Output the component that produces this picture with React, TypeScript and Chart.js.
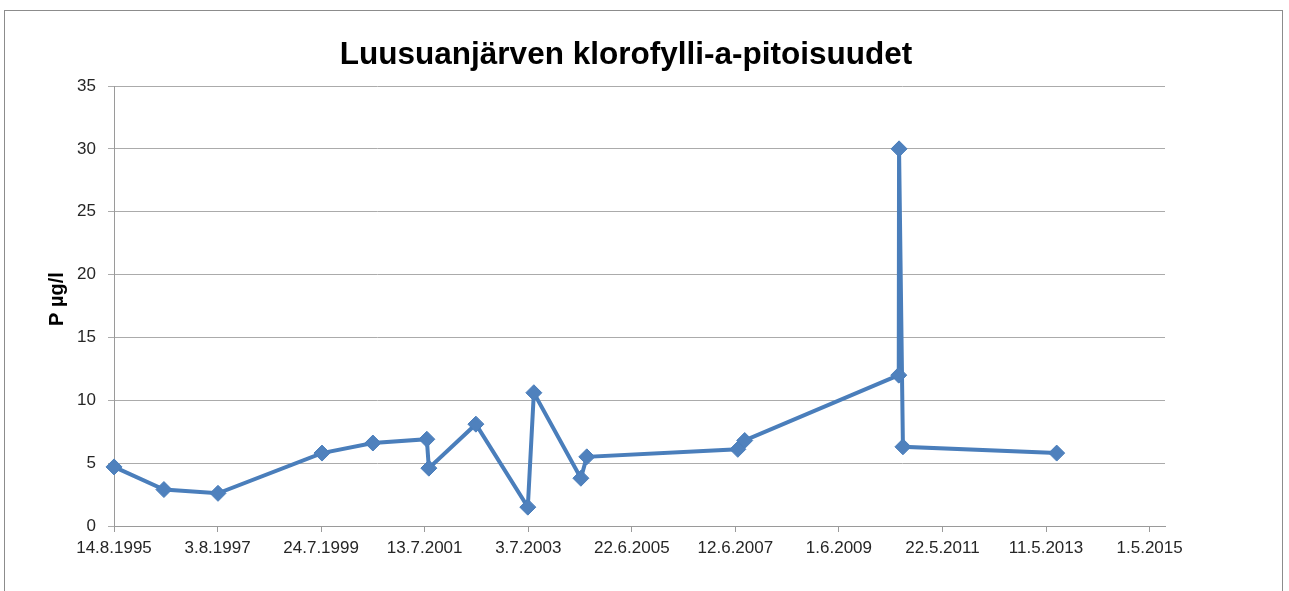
import React, { useEffect, useRef } from "react";
import { Chart, registerables } from "chart.js";

Chart.register(...registerables);

const chartTitle = "Luusuanjärven klorofylli-a-pitoisuudet";
const yAxisTitle = "P µg/l";

// sampling dates (ISO) and chlorophyll-a values
const sampleDates = [
  "1995-08-14",
  "1996-07-26",
  "1997-08-06",
  "1999-07-30",
  "2000-07-18",
  "2001-07-28",
  "2001-08-11",
  "2002-07-04",
  "2003-06-30",
  "2003-08-11",
  "2004-07-03",
  "2004-08-13",
  "2007-06-29",
  "2007-08-16",
  "2010-07-22",
  "2010-07-24",
  "2010-08-20",
  "2013-07-24",
];
const sampleValues = [4.7, 2.9, 2.6, 5.8, 6.6, 6.9, 4.6, 8.1, 1.5, 10.6, 3.8, 5.5, 6.1, 6.8, 12.0, 30.0, 6.3, 5.8];

// x axis ticks (Excel-like date axis, 720-day step)
const xTickStart = "1995-08-14";
const xTickStepDays = 720;
const xTickCount = 11;
const xAxisEnd = "2015-08-16";
const yMin = 0;
const yMax = 35;
const yStep = 5;

const DAY = 86400000;
const EXCEL_EPOCH = Date.UTC(1899, 11, 30);
const toSerial = (iso: string) => {
  const [y, m, d] = iso.split("-").map(Number);
  return Math.round((Date.UTC(y, m - 1, d) - EXCEL_EPOCH) / DAY);
};
const fmtSerial = (s: number) => {
  const dt = new Date(EXCEL_EPOCH + Math.round(s) * DAY);
  return `${dt.getUTCDate()}.${dt.getUTCMonth() + 1}.${dt.getUTCFullYear()}`;
};

const titlesPlugin = {
  id: "fixedTitles",
  afterDraw(chart: any) {
    const ctx = chart.ctx;
    ctx.save();
    ctx.fillStyle = "#000000";
    ctx.textAlign = "center";
    ctx.textBaseline = "middle";
    ctx.font = "bold 31.5px 'Liberation Sans', Arial, sans-serif";
    ctx.fillText(chartTitle, 626, 55);
    ctx.translate(57, 299);
    ctx.rotate(-Math.PI / 2);
    ctx.font = "bold 20px 'Liberation Sans', Arial, sans-serif";
    ctx.fillText(yAxisTitle, 0, 0);
    ctx.restore();
  },
};

export default function App() {
  const ref = useRef<HTMLCanvasElement | null>(null);

  useEffect(() => {
    if (!ref.current) return;
    const start = toSerial(xTickStart);
    const points = sampleDates.map((d, i) => ({ x: toSerial(d), y: sampleValues[i] }));
    const tickFont = { family: "'Liberation Sans', Arial, sans-serif", size: 17 };
    const chart = new Chart(ref.current, {
      type: "line",
      data: {
        datasets: [
          {
            data: points,
            borderColor: "#4A7EBB",
            backgroundColor: "#4F81BD",
            borderWidth: 4,
            pointStyle: "rectRot",
            pointRadius: 8,
            pointBorderWidth: 1,
            pointBorderColor: "#4A7EBB",
            pointBackgroundColor: "#4F81BD",
            tension: 0,
            fill: false,
            clip: false,
          },
        ],
      },
      options: {
        responsive: false,
        animation: false,
        devicePixelRatio: 1,
        layout: { padding: { left: 0, right: 124, top: 86, bottom: 0 } },
        plugins: {
          legend: { display: false },
          tooltip: { enabled: false },
          title: { display: false },
        },
        scales: {
          x: {
            type: "linear",
            min: start,
            max: toSerial(xAxisEnd),
            afterFit: (s: any) => {
              s.height = 65;
            },
            afterBuildTicks: (s: any) => {
              s.ticks = Array.from({ length: xTickCount }, (_, k) => ({ value: start + k * xTickStepDays }));
            },
            border: { display: true, color: "#9A9A9A", width: 1 },
            grid: { drawOnChartArea: false, drawTicks: true, tickLength: 6, color: "#9A9A9A" },
            ticks: {
              color: "#262626",
              font: tickFont,
              padding: 6,
              maxRotation: 0,
              autoSkip: false,
              callback: (v: any) => fmtSerial(Number(v)),
            },
          },
          y: {
            min: yMin,
            max: yMax,
            afterFit: (s: any) => {
              s.width = 114;
            },
            border: { display: true, color: "#9A9A9A", width: 1 },
            grid: { color: "#ABABAB", lineWidth: 1, drawTicks: true, tickLength: 6 },
            ticks: { stepSize: yStep, color: "#262626", font: tickFont, padding: 12 },
            title: { display: false },
          },
        },
      },
      plugins: [titlesPlugin],
    });
    return () => chart.destroy();
  }, []);

  return (
    <div style={{ position: "fixed", left: 0, top: 0, width: 1289, height: 591, background: "#fff", overflow: "hidden" }}>
      <div
        style={{
          position: "absolute",
          left: 4,
          top: 10,
          width: 1279,
          height: 620,
          border: "1px solid #8C8C8C",
          boxSizing: "border-box",
        }}
      />
      <canvas ref={ref} width={1289} height={591} style={{ position: "absolute", left: 0, top: 0, width: 1289, height: 591 }} />
    </div>
  );
}
